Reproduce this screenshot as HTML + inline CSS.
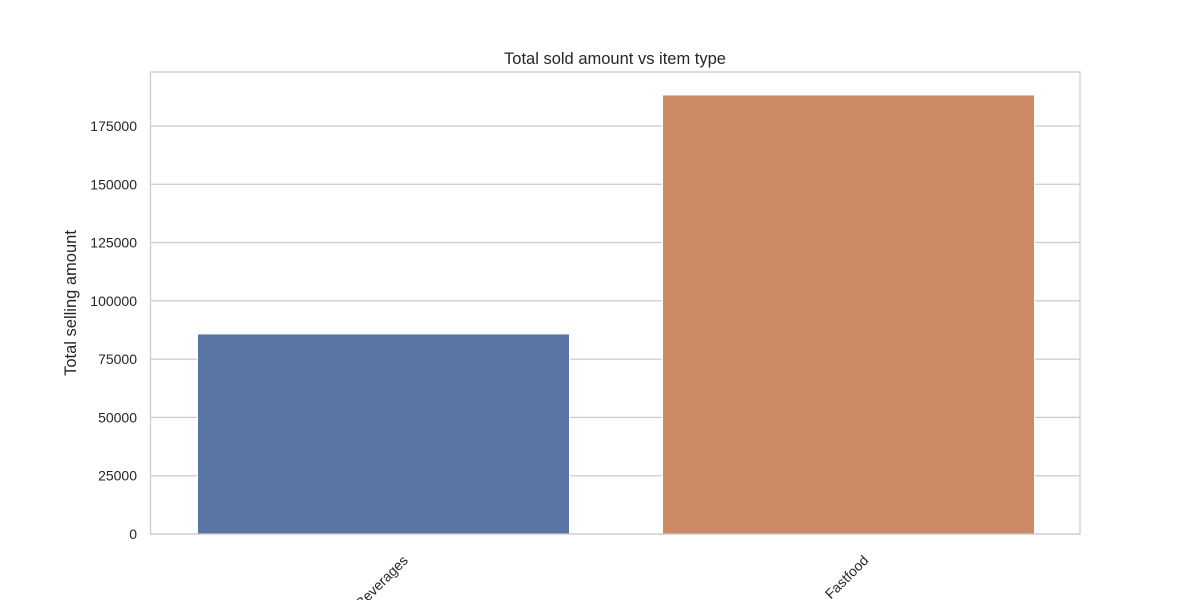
<!DOCTYPE html>
<html><head><meta charset="utf-8"><style>
body{margin:0;background:#fff}
svg{display:block;font-family:"Liberation Sans","DejaVu Sans",sans-serif}
</style></head><body>
<svg id="chart" width="1200" height="600">
<text x="615" y="64" text-anchor="middle" font-size="16.5" fill="#262626">Total sold amount vs item type</text>
<g id="grid"></g><g id="bars"></g><g id="yticks"></g><g id="xticks"></g>
<rect x="150.5" y="72" width="929.5" height="462" fill="none" stroke="#cccccc" stroke-width="1.25"/>
<text transform="translate(76,303) rotate(-90)" text-anchor="middle" font-size="16.5" fill="#262626">Total selling amount</text>
</svg>
<script>
const categories=["Beverages","Fastfood"];
const values=[85800,188300];
const colors=["#5975a4","#cc8963"];
const yTicks=[0,25000,50000,75000,100000,125000,150000,175000];
const yTickLabels=["0","25000","50000","75000","100000","125000","150000","175000"];
const NS="http://www.w3.org/2000/svg";
const L=151,R=1081,T=72,B=534,YMAX=198150;
const y=v=>B-(v/YMAX)*(B-T);
const band=(R-L)/categories.length;
const xc=i=>L+band*(i+0.5);
function mk(t,a,p){const e=document.createElementNS(NS,t);for(const k in a)e.setAttribute(k,a[k]);p.appendChild(e);return e;}
const grid=document.getElementById('grid'),yt=document.getElementById('yticks');
yTicks.forEach((v,i)=>{
  const g=mk('line',{x1:150,x2:1080,y1:y(v),y2:y(v),stroke:'#cccccc','stroke-width':1.25},grid);
  
  
  const t=mk('text',{x:137,y:y(v)+5,'text-anchor':'end','font-size':14,fill:'#262626'},yt);
  t.textContent=yTickLabels[i];
  
  
});
const bars=document.getElementById('bars'),xt=document.getElementById('xticks');
categories.forEach((c,i)=>{
  const w=band*0.8;
  const r=mk('rect',{x:xc(i)-w/2,y:y(values[i]),width:w,height:B-y(values[i]),fill:colors[i],stroke:'#ffffff','stroke-width':1},bars);
  
  
  const t=mk('text',{x:0,y:0,'text-anchor':'middle','dominant-baseline':'middle','font-size':14,fill:'#262626'},xt);
  t.textContent=c;
  
  
  const bb=t.getBBox();
  const half=(bb.width+bb.height)/(2*Math.SQRT2);
  t.setAttribute('transform','translate('+(xc(i)-1)+','+(553+half)+') rotate(-45)');
});
</script>
</body></html>
